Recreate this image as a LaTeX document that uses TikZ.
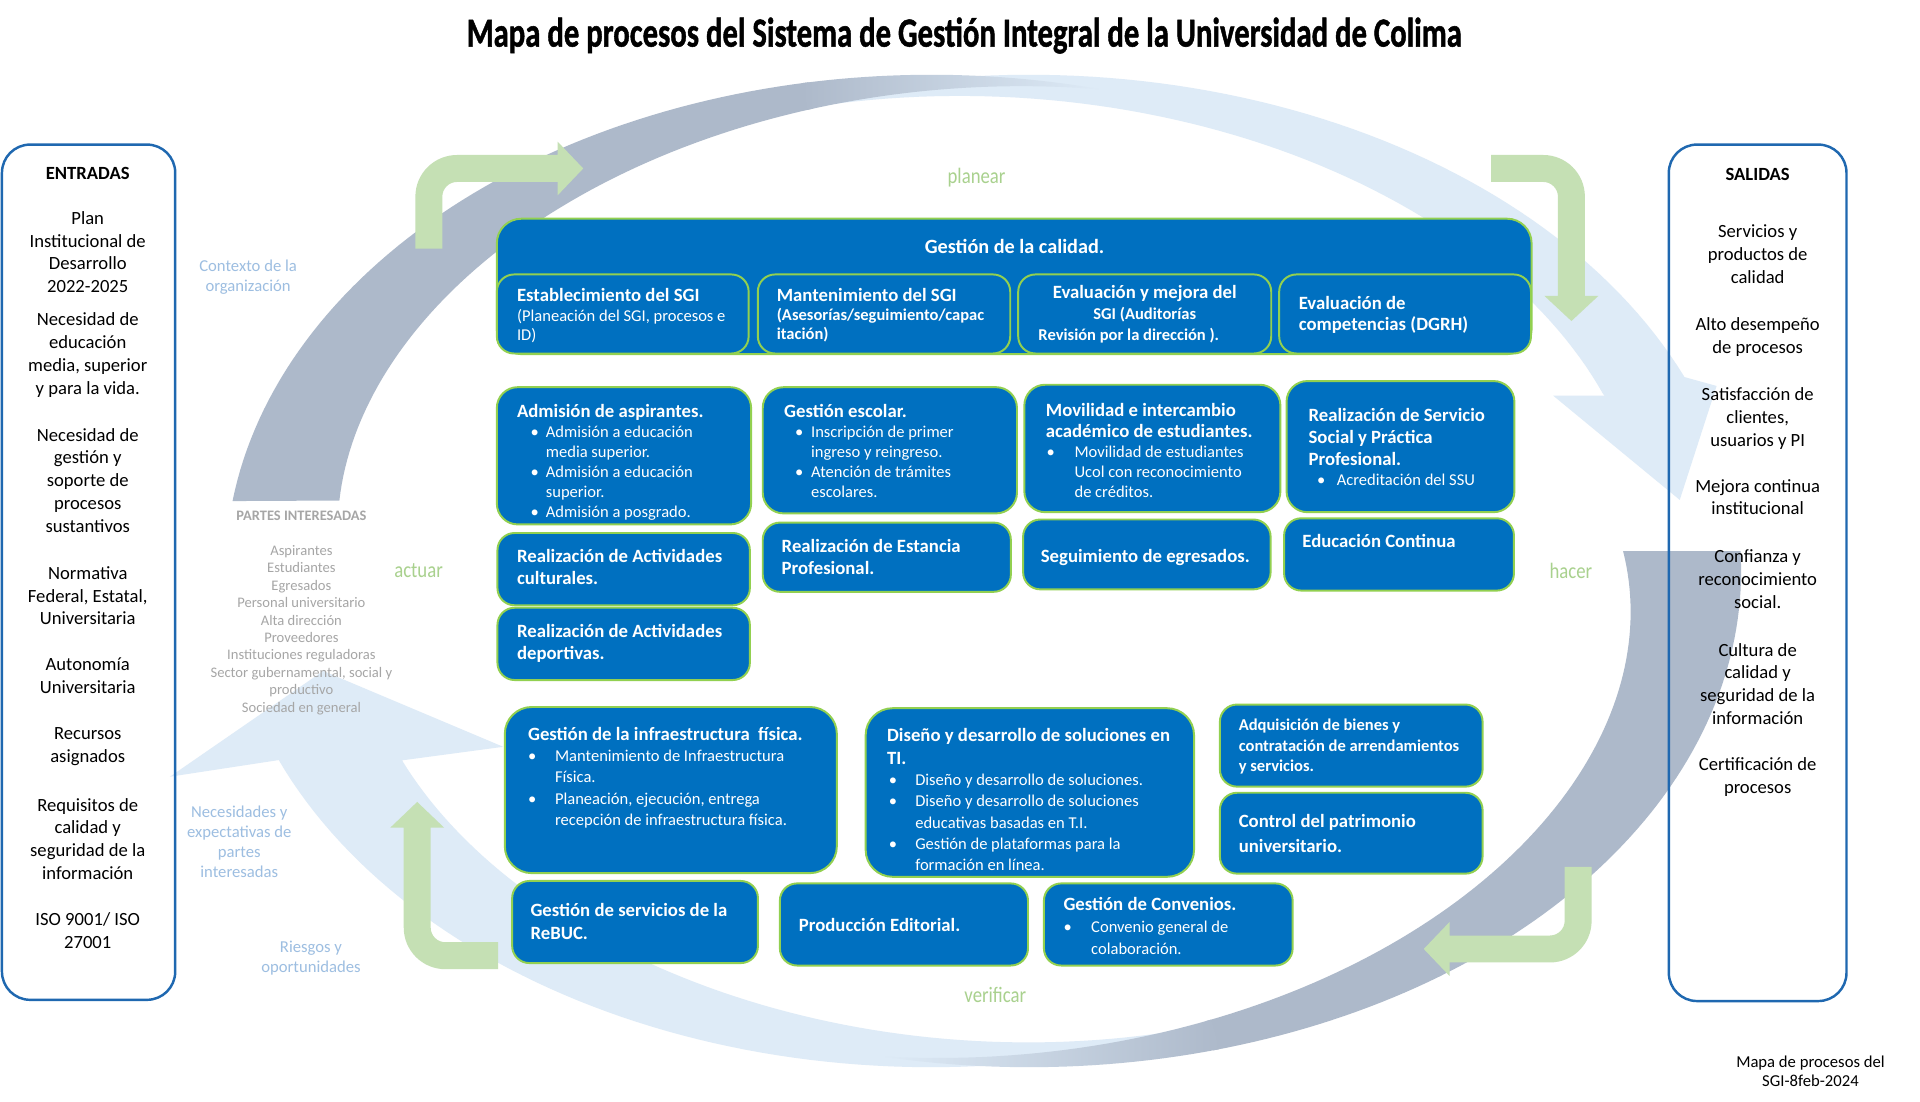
\documentclass[tikz,border=0pt]{standalone}
\usepackage{fontspec}
\setmainfont{Carlito}
\newfontface\titlefont{Carlito Bold}[FakeBold=1.3]
\usepackage{graphicx}
\definecolor{procblue}{RGB}{0,112,192}
\definecolor{procgreen}{RGB}{146,208,80}
\definecolor{ringgray}{RGB}{173,185,202}
\definecolor{ringblue}{RGB}{222,235,247}
\definecolor{arrgreen}{RGB}{197,224,180}
\definecolor{lblgreen}{RGB}{169,209,142}
\definecolor{lblblue}{RGB}{157,190,225}
\definecolor{iogray}{RGB}{166,166,166}
\definecolor{ioblue}{RGB}{31,104,176}
\newcommand\blk[2]{\vtop{\hsize=#1pt\relax\parskip=0pt\parindent=0pt\raggedright\noindent#2\par}}
\newcommand\cblk[2]{\vtop{\hsize=#1pt\relax\parskip=0pt\parindent=0pt\centering\noindent#2\par}}
\def\iskip{16.3}
\newcommand\fT{\fontsize{15.3pt}{18.3pt}\selectfont\bfseries}
\newcommand\fTs[1]{\fontsize{15.3pt}{#1pt}\selectfont\bfseries}
\newcommand\fI{\fontsize{13.5pt}{\iskip pt}\selectfont\mdseries}
\newcommand\itm[3]{\par\fI\noindent\hangindent=#2pt\relax\let\\\newline\makebox[#2pt][l]{\hspace*{#1pt}\textbullet}#3}
\begin{document}
\begin{tikzpicture}[x=1pt,y=-1pt,
  declare function={
    PLx(\qt,\qd)=760+(576-\qd)*cos(\qt);
    PLy(\qt,\qd)=466-(405-\qd)*sin(\qt);
    PRx(\qt,\qd)=840+(581-\qd)*cos(\qt);
    PRy(\qt,\qd)=466-(405-\qd)*sin(\qt);
    GLw(\qt)=87*(\qt-76)/95.9;
    GRw(\qt)=95*(\qt+102)/104.3;
    LRw(\qt)=64*(118-\qt)/93;
    LLw(\qt)=83.5*(295-\qt)/86.3;
  },
  tx/.style={anchor=base west, inner sep=0pt, outer sep=0pt, text=white},
  iotxt/.style={anchor=base, inner sep=0pt, outer sep=0pt, text=black, font=\fontsize{15.2pt}{18.6pt}\selectfont},
  pbox/.style={fill=procblue, draw=procgreen, line width=1.6pt, rounded corners=14pt, inner sep=0pt, outer sep=0pt, anchor=north west},
  bigbox/.style={pbox, rounded corners=20pt},
  iobox/.style={draw=ioblue, line width=2pt, rounded corners=23pt, inner sep=0pt, outer sep=0pt, anchor=north west},
  lbl/.style={anchor=base, inner sep=0pt, text=lblgreen, font=\fontsize{18pt}{20pt}\selectfont},
  soft/.style={anchor=base, inner sep=0pt, text=lblblue, font=\fontsize{13.6pt}{16.3pt}\selectfont},
  pis/.style={anchor=base, inner sep=0pt, text=iogray},
  garrow/.style={fill=arrgreen}
]
\useasboundingbox (0,0) rectangle (1567,899);
\fill[white] (0,0) rectangle (1567,899);

% ---- cycle ring ----
\fill[ringblue] plot[domain=118:23,samples=70] ({PRx(\x,0)},{PRy(\x,0)})
  -- (1401,315) -- (1370.9,408) -- (1267.6,322.9) -- (1309.7,322.9)
  -- plot[domain=25:118,samples=70] ({PRx(\x,LRw(\x))},{PRy(\x,LRw(\x))}) -- cycle;
\fill[ringblue] plot[domain=295:202.4,samples=70] ({PLx(\x,0)},{PLy(\x,0)})
  -- (138.7,633.9) -- (263.8,547.6) -- (410.7,609.5) -- (327.8,620.6)
  -- plot[domain=208.7:295,samples=70] ({PLx(\x,LLw(\x))},{PLy(\x,LLw(\x))}) -- cycle;
\fill[ringgray] plot[domain=171.9:100,samples=60] ({PLx(\x,0)},{PLy(\x,0)})
  -- plot[domain=100:169.65,samples=60] ({PLx(\x,GLw(\x))},{PLy(\x,GLw(\x))}) -- cycle;
\shade[left color=ringgray, right color=ringblue] plot[domain=100.5:76,samples=25] ({PLx(\x,0)},{PLy(\x,0)})
  -- plot[domain=76:100.5,samples=25] ({PLx(\x,GLw(\x))},{PLy(\x,GLw(\x))}) -- cycle;
\fill[ringgray] plot[domain=2.3:-75,samples=70] ({PRx(\x,0)},{PRy(\x,0)})
  -- plot[domain=-75:3.0,samples=70] ({PRx(\x,GRw(\x))},{PRy(\x,GRw(\x))}) -- cycle;
\shade[left color=ringblue, right color=ringgray] plot[domain=-74.5:-102,samples=25] ({PRx(\x,0)},{PRy(\x,0)})
  -- plot[domain=-102:-74.5,samples=25] ({PRx(\x,GRw(\x))},{PRy(\x,GRw(\x))}) -- cycle;

% ---- green bent arrows ----
\fill[garrow] (339,203) -- (339,160.5) .. controls (339,141.7) and (354.2,126.5) .. (373,126.5)
  -- (455,126.5) -- (455,115.5) -- (476,137.5) -- (455,159.5) -- (455,148.5) -- (373,148.5)
  .. controls (366.4,148.5) and (361,153.9) .. (361,160.5) -- (361,203) -- cycle;
\fill[garrow] (1217,126.5) -- (1259.5,126.5) .. controls (1278.3,126.5) and (1293.5,141.7) .. (1293.5,160.5)
  -- (1293.5,241.5) -- (1304.5,241.5) -- (1282.5,262) -- (1260.5,241.5) -- (1271.5,241.5) -- (1271.5,160.5)
  .. controls (1271.5,153.9) and (1266.1,148.5) .. (1259.5,148.5) -- (1217,148.5) -- cycle;
\fill[garrow] (1277,707.5) -- (1299,707.5) -- (1299,751.5) .. controls (1299,770.3) and (1283.8,785.5) .. (1265,785.5)
  -- (1183,785.5) -- (1183,796.5) -- (1162,774.5) -- (1183,752.5) -- (1183,763.5) -- (1265,763.5)
  .. controls (1271.6,763.5) and (1277,758.1) .. (1277,751.5) -- cycle;
\fill[garrow] (406.5,769) -- (363.5,769) .. controls (356.9,769) and (351.5,763.6) .. (351.5,757)
  -- (351.5,675.5) -- (362.5,675.5) -- (340.5,654.5) -- (318.5,675.5) -- (329.5,675.5) -- (329.5,757)
  .. controls (329.5,775.8) and (344.7,791) .. (363.5,791) -- (406.5,791) -- cycle;

% ---- title ----
\node[anchor=base, inner sep=0pt] (title) at (787,38) {\resizebox{812pt}{\height}{\fontsize{33.7pt}{40pt}\selectfont\titlefont Mapa de procesos del Sistema de Gestión Integral de la Universidad de Colima}};

% ---- entradas / salidas ----
\node[iobox, minimum width=141.4pt, minimum height=698pt] (entradas) at (1.6,118) {};
\node[iobox, minimum width=145pt, minimum height=699pt] (salidas) at (1362,118) {};
\node[iotxt] (e0) at (71.6,146.4) {\bfseries ENTRADAS};
\node[iotxt] (e1) at (71.6,183) {\cblk{140}{Plan\\Institucional de\\Desarrollo\\2022-2025}};
\node[iotxt] (e2) at (71.6,266) {\cblk{140}{Necesidad de\\educación\\media, superior\\y para la vida.}};
\node[iotxt] (e3) at (71.6,360) {\cblk{140}{Necesidad de\\gestión y\\soporte de\\procesos\\sustantivos}};
\node[iotxt] (e4) at (71.6,472.8) {\cblk{140}{Normativa\\Federal, Estatal,\\Universitaria}};
\node[iotxt] (e5) at (71.6,547.6) {\cblk{140}{Autonomía\\Universitaria}};
\node[iotxt] (e6) at (71.6,603.4) {\cblk{140}{Recursos\\asignados}};
\node[iotxt] (e7) at (71.6,661.9) {\cblk{140}{Requisitos de\\calidad y\\seguridad de la\\información}};
\node[iotxt] (e8) at (71.6,755.7) {\cblk{140}{ISO 9001/ ISO\\27001}};
\node[iotxt] (s0) at (1434.5,147.3) {\bfseries SALIDAS};
\node[iotxt] (s1) at (1434.5,194) {\cblk{140}{Servicios y\\productos de\\calidad}};
\node[iotxt] (s2) at (1434.5,269.7) {\cblk{140}{Alto desempeño\\de procesos}};
\node[iotxt] (s3) at (1434.5,326.8) {\cblk{140}{Satisfacción de\\clientes,\\usuarios y PI}};
\node[iotxt] (s4) at (1434.5,401.6) {\cblk{140}{Mejora continua\\institucional}};
\node[iotxt] (s5) at (1434.5,459.2) {\cblk{140}{Confianza y\\reconocimiento\\social.}};
\node[iotxt] (s6) at (1434.5,535.4) {\cblk{140}{Cultura de\\calidad y\\seguridad de la\\información}};
\node[iotxt] (s7) at (1434.5,629.2) {\cblk{140}{Certificación de\\procesos}};

% ---- side labels ----
\node[soft] (ctx) at (202.5,221.3) {\cblk{130}{Contexto de la\\organización}};
\node[soft] (nec) at (195.3,667.3) {\cblk{130}{Necesidades y\\expectativas de\\partes\\interesadas}};
\node[soft] (rie) at (253.8,777) {\cblk{130}{Riesgos y\\oportunidades}};
\node[pis, font=\fontsize{11.8pt}{14pt}\selectfont\bfseries] (pi) at (246,424.6) {PARTES INTERESADAS};
\node[pis, font=\fontsize{11.9pt}{14.23pt}\selectfont] (pil) at (246,453.2) {\cblk{190}{Aspirantes\\Estudiantes\\Egresados\\Personal universitario\\Alta dirección\\Proveedores\\Instituciones reguladoras\\Sector gubernamental, social y\\productivo\\Sociedad en general}};
\node[lbl] (planear) at (797,149.5) {\scalebox{0.85}[1]{planear}};
\node[lbl] (hacer) at (1282,472) {\scalebox{0.85}[1]{hacer}};
\node[lbl] (actuar) at (341.6,471.5) {\scalebox{0.85}[1]{actuar}};
\node[lbl] (verificar) at (812.3,818.5) {\scalebox{0.85}[1]{verificar}};
\node[anchor=base, inner sep=0pt, font=\fontsize{13.6pt}{15.5pt}\selectfont] (note) at (1477.6,871) {\cblk{170}{Mapa de procesos del\\SGI-8feb-2024}};

% ---- process boxes ----
\node[bigbox, minimum width=844.5pt, minimum height=110.5pt] (q) at (405.5,178.5) {};
\node[pbox, minimum width=205.5pt, minimum height=64.5pt] (q1) at (405.5,224) {};
\node[pbox, minimum width=206pt, minimum height=64.5pt] (q2) at (618.5,224) {};
\node[pbox, minimum width=206.5pt, minimum height=64.5pt] (q3) at (831,224) {};
\node[pbox, minimum width=205.5pt, minimum height=64.5pt] (q4) at (1044,224) {};
\node[pbox, rounded corners=17pt, minimum width=207.5pt, minimum height=112pt] (adm) at (405.5,316) {};
\node[pbox, rounded corners=17pt, minimum width=207.5pt, minimum height=103pt] (esc) at (622.5,316) {};
\node[pbox, rounded corners=17pt, minimum width=209pt, minimum height=104pt] (mov) at (836,314) {};
\node[pbox, rounded corners=17pt, minimum width=186pt, minimum height=107pt] (ssp) at (1050,311) {};
\node[pbox, minimum width=206pt, minimum height=59pt] (cul) at (406,435) {};
\node[pbox, minimum width=202.5pt, minimum height=56.5pt] (est) at (622.5,426.5) {};
\node[pbox, minimum width=202pt, minimum height=57pt] (seg) at (835,424) {};
\node[pbox, minimum width=187.6pt, minimum height=59pt] (edu) at (1048,423) {};
\node[pbox, minimum width=206pt, minimum height=59pt] (dep) at (406,496) {};
\node[pbox, rounded corners=22pt, minimum width=271pt, minimum height=135.6pt] (inf) at (412,577) {};
\node[pbox, rounded corners=22pt, minimum width=268pt, minimum height=137.6pt] (ti) at (706.5,578) {};
\node[pbox, minimum width=214.4pt, minimum height=67pt] (adq) at (995.6,575) {};
\node[pbox, minimum width=214.4pt, minimum height=66pt] (ctl) at (995.6,647) {};
\node[pbox, minimum width=200.6pt, minimum height=67pt] (reb) at (418,719) {};
\node[pbox, minimum width=202.5pt, minimum height=67pt] (pro) at (636.5,721) {};
\node[pbox, minimum width=203pt, minimum height=67pt] (con) at (852,721) {};

% ---- process texts ----
\node[tx, anchor=base, font=\fontsize{16.5pt}{20pt}\selectfont\bfseries] (tq) at (828,207) {Gestión de la calidad.};
\node[tx] (tq1) at (422,246) {\blk{200}{\fTs{16.5}Establecimiento del SGI\par\fontsize{13.5pt}{16pt}\selectfont\mdseries\noindent(Planeación del SGI, procesos e\\ID)}};
\node[tx] (tq2) at (634,246) {\blk{200}{\fTs{16}Mantenimiento del SGI\par\fontsize{13.5pt}{15.5pt}\selectfont\bfseries\noindent(Asesorías/seguimiento/capac\\itación)}};
\node[tx, anchor=base] (tq3) at (934.25,244) {\cblk{200}{\fTs{18}Evaluación y mejora del\par\fontsize{13.5pt}{17pt}\selectfont\bfseries\noindent SGI (Auditorías\\\hspace*{-26pt}Revisión por la dirección ).}};
\node[tx] (tq4) at (1060,252.5) {\blk{200}{\fTs{17.5}Evaluación de\\competencias (DGRH)}};
\node[tx] (tadm) at (422,341) {\blk{200}{\fT Admisión de aspirantes.\itm{11}{23.5}{Admisión a educación\\media superior.}\itm{11}{23.5}{Admisión a educación\\superior.}\itm{11}{23.5}{Admisión a posgrado.}}};
\node[tx] (tesc) at (640,341) {\blk{200}{\fT Gestión escolar.\itm{9}{22}{Inscripción de primer\\ingreso y reingreso.}\itm{9}{22}{Atención de trámites\\escolares.}}};
\node[tx] (tmov) at (853.6,339.6) {\blk{200}{\fTs{17.4}Movilidad e intercambio\\académico de estudiantes.\itm{0.5}{23.4}{Movilidad de estudiantes\\Ucol con reconocimiento\\de créditos.}}};
\node[tx] (tssp) at (1068,344) {\blk{200}{\fTs{17.9}Realización de Servicio\\Social y Práctica\\Profesional.\itm{7}{23}{Acreditación del SSU}}};
\node[tx] (tcul) at (422,458.7) {\blk{200}{\fT Realización de Actividades\\culturales.}};
\node[tx] (tdep) at (422,520) {\blk{200}{\fT Realización de Actividades\\deportivas.}};
\node[tx] (test) at (638,450.6) {\blk{200}{\fT Realización de Estancia\\Profesional.}};
\node[tx] (tseg) at (849.5,459) {\blk{200}{\fT Seguimiento de egresados.}};
\node[tx] (tedu) at (1063,447) {\blk{200}{\fT Educación Continua}};
\node[tx] (tinf) at (431,604) {\blk{260}{\def\iskip{17.5}\fT Gestión de la infraestructura\ \ física.\itm{0}{22}{Mantenimiento de Infraestructura\\Física.}\itm{0}{22}{Planeación, ejecución, entrega\\recepción de infraestructura física.}}};
\node[tx] (tti) at (724,605) {\blk{260}{\def\iskip{17.3}\fTs{19}Diseño y desarrollo de soluciones en\\TI.\itm{1.5}{23}{Diseño y desarrollo de soluciones.}\itm{1.5}{23}{Diseño y desarrollo de soluciones\\educativas basadas en T.I.}\itm{1.5}{23}{Gestión de plataformas para la\\formación en línea.}}};
\node[tx] (tadq) at (1011,596) {\blk{210}{\fontsize{13.5pt}{17pt}\selectfont\bfseries Adquisición de bienes y\\contratación de arrendamientos\\y servicios.}};
\node[tx] (tctl) at (1011,675.6) {\blk{200}{\fTs{20.4}Control del patrimonio\\universitario.}};
\node[tx] (treb) at (433,747.6) {\blk{200}{\fTs{19.4}Gestión de servicios de la\\ReBUC.}};
\node[tx] (tpro) at (652,760.6) {\blk{200}{\fT Producción Editorial.}};
\node[tx] (tcon) at (868,743) {\blk{200}{\def\iskip{17.8}\fT Gestión de Convenios.\itm{0}{22.6}{Convenio general de\\colaboración.}}};
\end{tikzpicture}
\end{document}
